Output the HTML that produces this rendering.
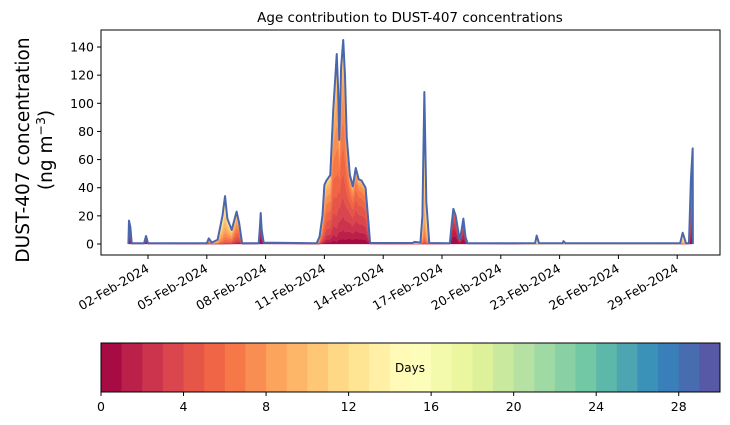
<!DOCTYPE html>
<html><head><meta charset="utf-8">
<style>
body{margin:0;background:#fff;}
svg{display:block;font-family:"DejaVu Sans","Liberation Sans",sans-serif;}
</style></head>
<body>
<svg id="chart" width="730" height="425" viewBox="0 0 730 425" xmlns="http://www.w3.org/2000/svg">
<text x="410" y="22" font-size="13.5" text-anchor="middle">Age contribution to DUST-407 concentrations</text>
<g font-size="18.5" text-anchor="middle">
<text transform="translate(29,150) rotate(-90)">DUST-407 concentration</text>
<text transform="translate(52,150) rotate(-90)">(ng m<tspan font-size="12.5" dy="-7">−3</tspan><tspan dy="7">)</tspan></text>
</g>
<g id="areas"></g>
<g id="line"></g>
<rect x="101" y="30" width="619" height="225" fill="none" stroke="#000" stroke-width="1"/>
<g id="yticks" font-size="12.5"></g>
<g id="xticks" font-size="12.5"></g>
<g id="cbar" font-size="12.5"></g>
</svg>
<script>
const days=[1.0,1.03,1.1,1.17,1.8,1.9,2.0,5.0,5.1,5.25,5.55,5.8,5.93,6.05,6.27,6.52,6.65,6.8,7.65,7.72,7.75,7.8,7.9,10.6,10.75,10.9,11.0,11.1,11.3,11.45,11.63,11.7,11.76,11.85,11.96,12.05,12.14,12.3,12.45,12.6,12.75,12.9,13.1,13.25,13.33,15.5,15.6,15.9,16.0,16.1,16.2,16.35,17.4,17.5,17.58,17.7,17.9,18.0,18.09,18.2,18.3,21.75,21.83,21.95,23.15,23.2,23.3,29.15,29.28,29.45,29.6,29.7,29.79,29.8];
const totals=[0,16.6,12,0.5,0.5,5.7,0.5,0.5,4,1,3,20,34,18,10,23,15,0.5,0.5,14,22,10,1,0.5,5,20,42,45,49,95,135,110,74,125,145,120,76,49,41,54,46,45,40,15,0.7,0.7,1.5,1,20,108,30,0.7,0.5,15,25,20,3,10,18,5,0.5,0.5,6,0.5,0.5,2,0.5,0.5,8,0.5,0.5,46,68,0];
const meanAge=[2,2,2,2,2,1,2,8,8,8,9,10,10,9,8,7,6,6,2,1,1,1,2,8,8,7,7,6,6,6,7,6,5,6,6,6,5,4,4,4,4,4,4,4,4,10,10,11,11,11,11,11,1,0.5,0.5,0.5,0.5,1,1,1,1,14,14,14,14,14,14,12,12,12,4,4,3,3];
const yTicks=[0,20,40,60,80,100,120,140];
const xTickDays=[2,5,8,11,14,17,20,23,26,29];
const xTickLabels=["02-Feb-2024","05-Feb-2024","08-Feb-2024","11-Feb-2024","14-Feb-2024","17-Feb-2024","20-Feb-2024","23-Feb-2024","26-Feb-2024","29-Feb-2024"];
const cbTicks=[0,4,8,12,16,20,24,28];

const NS="http://www.w3.org/2000/svg";
const X=d=>128.4+(d-1)*19.6;
const Y=v=>244-v*1.407;
const spec=["#9e0142","#d53e4f","#f46d43","#fdae61","#fee08b","#ffffbf","#e6f598","#abdda4","#66c2a5","#3288bd","#5e4fa2"];
function hex(h){return[1,3,5].map(i=>parseInt(h.substr(i,2),16));}
function cmap(t){const p=t*10,i=Math.min(9,Math.floor(p)),f=p-i;const a=hex(spec[i]),b=hex(spec[i+1]);return "rgb("+a.map((c,k)=>Math.round(c+(b[k]-c)*f)).join(",")+")";}
const nb=30;const colors=[];for(let i=0;i<nb;i++)colors.push(cmap((i+0.5)/nb));
function mk(tag,attrs,parent){const e=document.createElementNS(NS,tag);for(const k in attrs)e.setAttribute(k,attrs[k]);parent.appendChild(e);return e;}

const weights=days.map((d,i)=>{const w=[];let s=0;for(let a=0;a<nb;a++){const v=Math.exp(-Math.pow((a+0.5-meanAge[i])/3,2)/2);w.push(v);s+=v;}return w.map(v=>v/s);});
const cum=days.map(()=>0);
const areas=document.getElementById('areas');
for(let a=0;a<nb;a++){
  const lower=cum.slice();
  for(let i=0;i<days.length;i++)cum[i]+=totals[i]*weights[i][a];
  let pts=days.map((d,i)=>X(d).toFixed(2)+","+Y(cum[i]).toFixed(2));
  for(let i=days.length-1;i>=0;i--)pts.push(X(days[i]).toFixed(2)+","+Y(lower[i]).toFixed(2));
  const p=mk('polygon',{points:pts.join(" "),fill:colors[a],stroke:colors[a],'stroke-width':0.3},areas);
  
  
}
const ln=mk('polyline',{points:days.map((d,i)=>X(d).toFixed(2)+","+Y(totals[i]).toFixed(2)).join(" "),fill:"none",stroke:"#4a66ad","stroke-width":2,"stroke-linejoin":"round"},document.getElementById('line'));



const yg=document.getElementById('yticks');
yTicks.forEach(v=>{
  mk('line',{x1:97,x2:101,y1:Y(v),y2:Y(v),stroke:"#000"},yg);
  const t=mk('text',{x:94,y:Y(v)+4.5,'text-anchor':'end'},yg);t.textContent=v;
  
  
});
const xg=document.getElementById('xticks');
xTickDays.forEach((d,i)=>{
  mk('line',{x1:X(d),x2:X(d),y1:255,y2:259,stroke:"#000"},xg);
  const t=mk('text',{transform:"translate("+(X(d)+2)+",271) rotate(-30)",'text-anchor':'end'},xg);t.textContent=xTickLabels[i];
  
  
});
const cb=document.getElementById('cbar');
const CX=v=>101+v*(619/30);
colors.forEach((c,i)=>{const r=mk('rect',{x:CX(i),y:343,width:619/30+0.5,height:49,fill:c},cb);
  
  });
mk('rect',{x:101,y:343,width:619,height:49,fill:"none",stroke:"#000"},cb);
const dl=mk('text',{x:410,y:372,'text-anchor':'middle','font-size':12},cb);dl.textContent="Days";


cbTicks.forEach(v=>{mk('line',{x1:CX(v),x2:CX(v),y1:392,y2:396,stroke:"#000"},cb);
  const t=mk('text',{x:CX(v),y:411,'text-anchor':'middle'},cb);t.textContent=v;
  
  });
</script>
</body></html>
